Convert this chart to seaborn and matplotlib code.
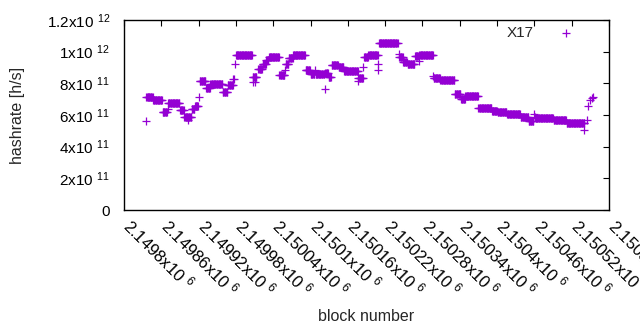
import numpy as np
import pandas as pd
import matplotlib
matplotlib.use("Agg")
import matplotlib.pyplot as plt
import matplotlib.transforms as mtransforms
import seaborn as sns

# --- data: runs of blocks sharing the same hashrate estimate ---
seg_start = [2149835, 2149836, 2149847, 2149862, 2149870, 2149871, 2149890, 2149897, 2149903,
             2149909, 2149914, 2149921, 2149922, 2149932, 2149939, 2149959, 2149967, 2149976,
             2149979, 2149980, 2150007, 2150007, 2150010, 2150016, 2150023, 2150029, 2150033,
             2150050, 2150059, 2150060, 2150065, 2150072, 2150092, 2150100, 2150107, 2150108,
             2150123, 2150124, 2150129, 2150134, 2150145, 2150154, 2150176, 2150177, 2150185,
             2150186, 2150193, 2150209, 2150209, 2150210, 2150242, 2150243, 2150249, 2150256,
             2150268, 2150274, 2150275, 2150297, 2150298, 2150309, 2150332, 2150342, 2150349,
             2150370, 2150392, 2150401, 2150416, 2150438, 2150451, 2150460, 2150461, 2150462,
             2150491, 2150512, 2150540, 2150545, 2150547, 2150549, 2150552, 2150555]
seg_end = [2149835, 2149846, 2149861, 2149869, 2149870, 2149889, 2149896, 2149908, 2149903,
           2149913, 2149919, 2149921, 2149931, 2149938, 2149958, 2149966, 2149975, 2149977,
           2149979, 2150006, 2150007, 2150013, 2150010, 2150022, 2150028, 2150032, 2150049,
           2150058, 2150059, 2150064, 2150071, 2150091, 2150099, 2150106, 2150107, 2150122,
           2150123, 2150128, 2150133, 2150144, 2150153, 2150176, 2150176, 2150184, 2150185,
           2150192, 2150208, 2150209, 2150209, 2150240, 2150242, 2150248, 2150255, 2150267,
           2150273, 2150274, 2150297, 2150297, 2150308, 2150331, 2150341, 2150348, 2150369,
           2150391, 2150400, 2150415, 2150437, 2150450, 2150458, 2150460, 2150461, 2150490,
           2150511, 2150540, 2150540, 2150545, 2150547, 2150549, 2150552, 2150555]
seg_rate = [5.62e11, 7.12e11, 6.93e11, 6.17e11, 6.38e11, 6.74e11, 6.30e11, 5.89e11, 5.68e11,
            6.40e11, 6.60e11, 7.12e11, 8.13e11, 7.72e11, 7.94e11, 7.43e11, 7.89e11, 8.25e11,
            9.20e11, 9.77e11, 8.08e11, 8.42e11, 8.08e11, 8.91e11, 9.22e11, 9.47e11, 9.66e11,
            8.53e11, 8.84e11, 9.22e11, 9.58e11, 9.77e11, 8.82e11, 8.57e11, 8.84e11, 8.60e11,
            7.62e11, 8.67e11, 8.42e11, 9.16e11, 9.01e11, 8.78e11, 8.17e11, 8.32e11, 9.01e11,
            9.68e11, 9.79e11, 9.22e11, 8.84e11, 1.053e12, 9.85e11, 9.64e11, 9.33e11, 9.20e11,
            9.73e11, 9.43e11, 9.79e11, 8.45e11, 8.32e11, 8.19e11, 7.33e11, 6.99e11, 7.20e11,
            6.43e11, 6.25e11, 6.17e11, 6.04e11, 5.85e11, 5.64e11, 6.04e11, 5.89e11, 5.79e11,
            5.67e11, 5.48e11, 5.05e11, 5.68e11, 6.59e11, 6.95e11, 7.10e11, 7.12e11]

x_ticks = [2149800, 2149860, 2149920, 2149980, 2150040, 2150100, 2150160,
           2150220, 2150280, 2150340, 2150400, 2150460, 2150520, 2150580]
x_labels = ["2.1498", "2.14986", "2.14992", "2.14998", "2.15004", "2.1501", "2.15016",
            "2.15022", "2.15028", "2.15034", "2.1504", "2.15046", "2.15052", "2.15058"]
y_ticks = [0, 2e11, 4e11, 6e11, 8e11, 1e12, 1.2e12]
y_labels = ["0", "2x10 $^{11}$", "4x10 $^{11}$", "6x10 $^{11}$", "8x10 $^{11}$",
            "1x10 $^{12}$", "1.2x10 $^{12}$"]

# expand runs into one row per block
blocks, rates = [], []
for s, e, r in zip(seg_start, seg_end, seg_rate):
    for b in range(s, e + 1):
        blocks.append(b)
        rates.append(r)
df = pd.DataFrame({"block": blocks, "hashrate": rates})

sns.set_style("white")
plt.rcParams["font.family"] = ["Liberation Sans", "DejaVu Sans"]
plt.rcParams["mathtext.fontset"] = "custom"
plt.rcParams["mathtext.rm"] = "Liberation Sans"
plt.rcParams["mathtext.it"] = "Liberation Sans"
plt.rcParams["mathtext.default"] = "regular"

fig = plt.figure(figsize=(6.4, 3.3), dpi=100)
ax = fig.add_axes([124 / 640, 1 - 210 / 330, 485 / 640, 190 / 330])

sns.scatterplot(data=df, x="block", y="hashrate", marker="+", s=36, linewidth=0.9,
                color="#9400d3", label="X17", ax=ax)

ax.set_xlim(2149800, 2150580)
ax.set_ylim(0, 1.2e12)
ax.set_xticks(x_ticks)
ax.set_xticklabels([l + "x10 $^{6}$" for l in x_labels], rotation=-45,
                   ha="left", va="center", rotation_mode="anchor", fontsize=12)
ax.set_yticks(y_ticks)
ax.set_yticklabels(y_labels, fontsize=11)
ax.tick_params(direction="in", length=4, width=0.8, top=True, right=True,
               colors="black")
ax.tick_params(axis="x", pad=9)
ax.tick_params(axis="y", pad=10)
shift = mtransforms.ScaledTranslation(3 / 100, 0, fig.dpi_scale_trans)
for lab in ax.get_xticklabels():
    lab.set_transform(lab.get_transform() + shift)
for sp in ax.spines.values():
    sp.set_color("black")
    sp.set_linewidth(1)

ax.set_xlabel("block number", fontsize=11.5)
ax.set_ylabel("hashrate [h/s]", fontsize=11.5)
ax.xaxis.set_label_coords(0.5, -0.52)
ax.yaxis.set_label_coords(-0.205, 0.5)

ax.legend(loc="upper right", frameon=False, markerfirst=False, fontsize=11,
          bbox_to_anchor=(0.955, 1.04), handletextpad=1.6, handlelength=1.0)

fig.savefig("out.png", dpi=100)
